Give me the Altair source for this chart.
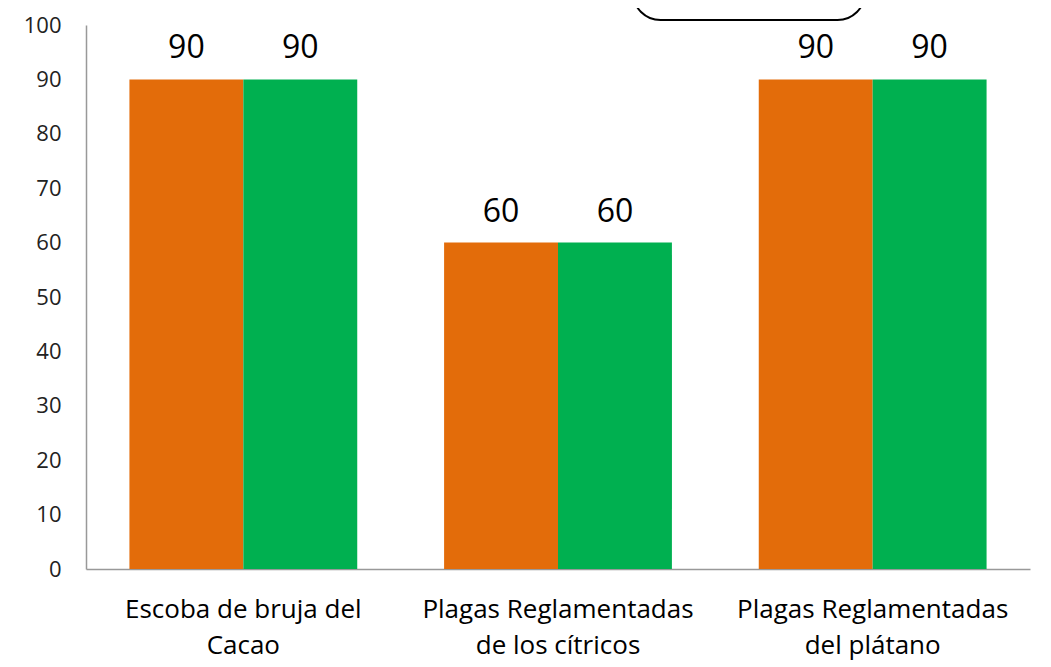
import altair as alt
import pandas as pd

categories = ["Escoba de bruja del Cacao", "Plagas Reglamentadas de los cítricos", "Plagas Reglamentadas del plátano"]
label_lines = [["Escoba de bruja del", "Cacao"], ["Plagas Reglamentadas", "de los cítricos"], ["Plagas Reglamentadas", "del plátano"]]
series = ["Serie 1", "Serie 2"]
values_s1 = [90, 60, 90]
values_s2 = [90, 60, 90]
colors = ["#E36C0A", "#00B050"]
y_ticks = [0, 10, 20, 30, 40, 50, 60, 70, 80, 90, 100]

rows = []
for c, a, b in zip(categories, values_s1, values_s2):
    rows.append({"cat": c, "serie": series[0], "val": a})
    rows.append({"cat": c, "serie": series[1], "val": b})
df = pd.DataFrame(rows)

expr = "".join(
    f"datum.label == '{c}' ? {l!r} : " for c, l in zip(categories, label_lines)
) + "datum.label"

FONT = "Open Sans"

x = alt.X("cat:N", sort=categories, title=None,
          scale=alt.Scale(paddingInner=0.276, paddingOuter=0.138),
          axis=alt.Axis(labelAngle=0, labelFontSize=26, labelFont=FONT, labelColor="#000",
                        ticks=False, domainColor="#999", domainWidth=1.5, labelPadding=27,
                        labelLineHeight=36, labelExpr=expr, labelBaseline="top", labelLimit=0))
y = alt.Y("val:Q", title=None,
          scale=alt.Scale(domain=[0, 100], nice=False),
          axis=alt.Axis(values=y_ticks, grid=False, ticks=False, domainColor="#999", domainWidth=1.5,
                        labelFontSize=22, labelFont=FONT, labelColor="#222", labelPadding=25))

base = alt.Chart(df).encode(
    x=x, y=y,
    xOffset=alt.XOffset("serie:N", sort=series),
)

bars = base.mark_bar().encode(
    color=alt.Color("serie:N", scale=alt.Scale(domain=series, range=colors), legend=None)
)
text = base.mark_text(baseline="alphabetic", dy=-21, fontSize=32, font=FONT, color="#000").encode(
    text=alt.Text("val:Q")
)

box = alt.Chart(pd.DataFrame({"k": [1]})).mark_rect(
    fill="white", stroke="black", strokeWidth=2, cornerRadius=28, clip=False
).encode(x=alt.value(547), x2=alt.value(779), y=alt.value(-60), y2=alt.value(-5))

chart = alt.layer(bars, text, box).properties(
    width=944, height=544,
    autosize=alt.AutoSizeParams(type="none"),
    padding={"left": 78, "top": 17, "right": 13, "bottom": 96},
).configure_view(stroke=None)

chart.save("out.html", embed_options={"renderer": "svg", "actions": False})
